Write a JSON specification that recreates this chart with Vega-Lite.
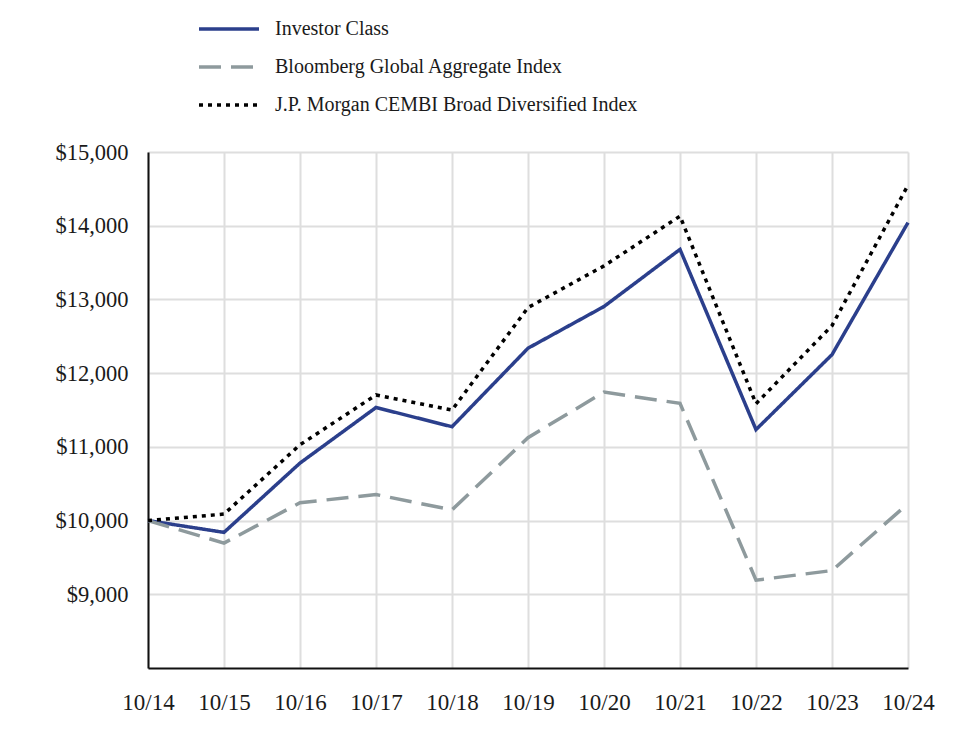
{
  "$schema": "https://vega.github.io/schema/vega-lite/v6.json",
  "width": 760,
  "height": 516,
  "autosize": "none",
  "padding": {"left": 148, "top": 152, "right": 56, "bottom": 72},
  "background": "white",
  "config": {
    "view": {"stroke": null},
    "font": "Liberation Serif"
  },
  "data": {
    "values": [
      {"date": "10/14", "series": "Investor Class", "value": 10000},
      {"date": "10/15", "series": "Investor Class", "value": 9840},
      {"date": "10/16", "series": "Investor Class", "value": 10780},
      {"date": "10/17", "series": "Investor Class", "value": 11534},
      {"date": "10/18", "series": "Investor Class", "value": 11273},
      {"date": "10/19", "series": "Investor Class", "value": 12338},
      {"date": "10/20", "series": "Investor Class", "value": 12904},
      {"date": "10/21", "series": "Investor Class", "value": 13679},
      {"date": "10/22", "series": "Investor Class", "value": 11234},
      {"date": "10/23", "series": "Investor Class", "value": 12251},
      {"date": "10/24", "series": "Investor Class", "value": 14042},
      {"date": "10/14", "series": "Bloomberg Global Aggregate Index", "value": 10000},
      {"date": "10/15", "series": "Bloomberg Global Aggregate Index", "value": 9695},
      {"date": "10/16", "series": "Bloomberg Global Aggregate Index", "value": 10242},
      {"date": "10/17", "series": "Bloomberg Global Aggregate Index", "value": 10353},
      {"date": "10/18", "series": "Bloomberg Global Aggregate Index", "value": 10145},
      {"date": "10/19", "series": "Bloomberg Global Aggregate Index", "value": 11125},
      {"date": "10/20", "series": "Bloomberg Global Aggregate Index", "value": 11743},
      {"date": "10/21", "series": "Bloomberg Global Aggregate Index", "value": 11590},
      {"date": "10/22", "series": "Bloomberg Global Aggregate Index", "value": 9192},
      {"date": "10/23", "series": "Bloomberg Global Aggregate Index", "value": 9322},
      {"date": "10/24", "series": "Bloomberg Global Aggregate Index", "value": 10230},
      {"date": "10/14", "series": "J.P. Morgan CEMBI Broad Diversified Index", "value": 10000},
      {"date": "10/15", "series": "J.P. Morgan CEMBI Broad Diversified Index", "value": 10088},
      {"date": "10/16", "series": "J.P. Morgan CEMBI Broad Diversified Index", "value": 11028},
      {"date": "10/17", "series": "J.P. Morgan CEMBI Broad Diversified Index", "value": 11704},
      {"date": "10/18", "series": "J.P. Morgan CEMBI Broad Diversified Index", "value": 11500},
      {"date": "10/19", "series": "J.P. Morgan CEMBI Broad Diversified Index", "value": 12890},
      {"date": "10/20", "series": "J.P. Morgan CEMBI Broad Diversified Index", "value": 13455},
      {"date": "10/21", "series": "J.P. Morgan CEMBI Broad Diversified Index", "value": 14130},
      {"date": "10/22", "series": "J.P. Morgan CEMBI Broad Diversified Index", "value": 11585},
      {"date": "10/23", "series": "J.P. Morgan CEMBI Broad Diversified Index", "value": 12645},
      {"date": "10/24", "series": "J.P. Morgan CEMBI Broad Diversified Index", "value": 14550}
    ]
  },
  "mark": {"type": "line", "strokeWidth": 3.5, "strokeCap": "butt", "strokeJoin": "miter"},
  "encoding": {
    "x": {
      "field": "date",
      "type": "ordinal",
      "sort": null,
      "scale": {"type": "point", "padding": 0},
      "axis": {
        "title": null,
        "labelAngle": 0,
        "labelFontSize": 23,
        "labelColor": "#1a1a1a",
        "labelPadding": 23,
        "ticks": false,
        "domainColor": "#111111",
        "domainWidth": 2,
        "grid": true,
        "gridColor": "#dedede",
        "gridWidth": 2
      }
    },
    "y": {
      "field": "value",
      "type": "quantitative",
      "scale": {"domain": [8000, 15000], "nice": false, "zero": false},
      "axis": {
        "title": null,
        "values": [9000, 10000, 11000, 12000, 13000, 14000, 15000],
        "format": "$,.0f",
        "labelFontSize": 22.5,
        "labelColor": "#1a1a1a",
        "labelPadding": 20,
        "ticks": false,
        "domainColor": "#111111",
        "domainWidth": 2,
        "grid": true,
        "gridColor": "#dedede",
        "gridWidth": 2
      }
    },
    "color": {
      "field": "series",
      "type": "nominal",
      "sort": null,
      "scale": {
        "domain": ["Investor Class", "Bloomberg Global Aggregate Index", "J.P. Morgan CEMBI Broad Diversified Index"],
        "range": ["#2b3f8c", "#8e9a9d", "#000000"]
      },
      "legend": {
        "title": null,
        "orient": "none",
        "legendX": 49,
        "legendY": -133,
        "symbolType": "stroke",
        "symbolSize": 3600,
        "symbolStrokeWidth": 3.5,
        "clipHeight": 20,
        "rowPadding": 18,
        "labelFontSize": 20,
        "labelColor": "#1a1a1a",
        "labelOffset": 14,
        "labelLimit": 600,
        "padding": 0
      }
    },
    "strokeDash": {
      "field": "series",
      "type": "nominal",
      "sort": null,
      "scale": {
        "domain": ["Investor Class", "Bloomberg Global Aggregate Index", "J.P. Morgan CEMBI Broad Diversified Index"],
        "range": [[1, 0], [22, 10], [4, 5]]
      },
      "legend": {
        "title": null,
        "orient": "none",
        "legendX": 49,
        "legendY": -133,
        "symbolType": "stroke",
        "symbolSize": 3600,
        "symbolStrokeWidth": 3.5,
        "clipHeight": 20,
        "rowPadding": 18,
        "labelFontSize": 20,
        "labelColor": "#1a1a1a",
        "labelOffset": 14,
        "labelLimit": 600,
        "padding": 0
      }
    }
  }
}
